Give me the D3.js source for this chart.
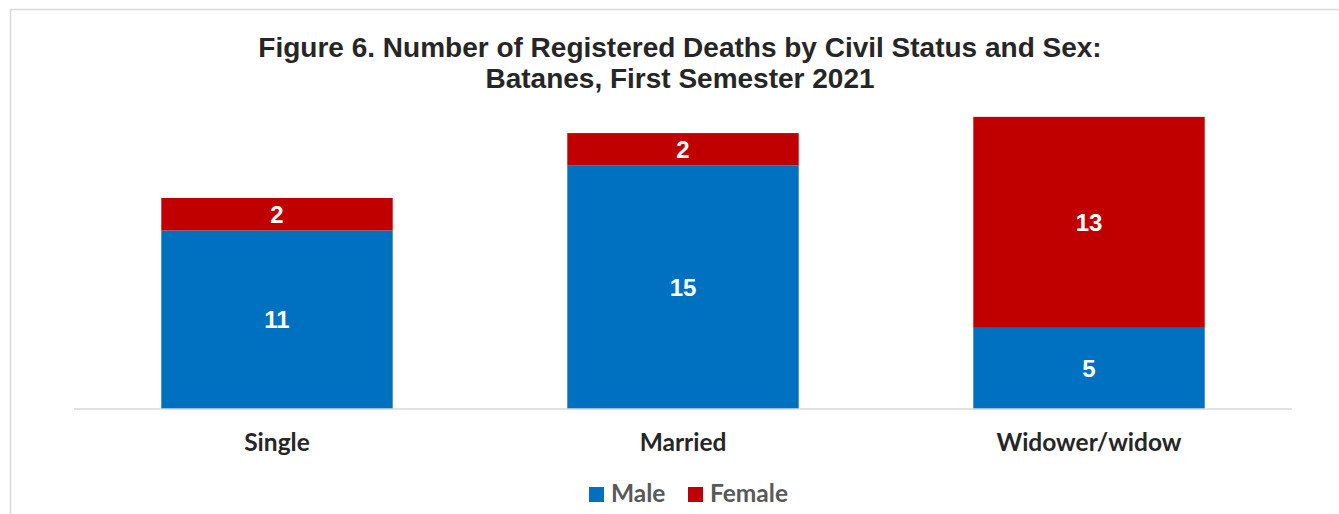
<!DOCTYPE html>
<html>
<head>
<meta charset="utf-8">
<script src="https://cdn.jsdelivr.net/npm/d3@7"></script>
<style>
  body { margin: 0; background: #fff; }
  svg { display: block; }
</style>
</head>
<body>
<svg id="chart" width="1339" height="514"></svg>
<script>
var categories = ["Single", "Married", "Widower/widow"];
var male = [11, 15, 5];
var female = [2, 2, 13];
var seriesNames = ["Male", "Female"];
var colors = ["#0070c0", "#c00000"];

var svg = d3.select("#chart");

// outer frame (only top/left visible in the picture)
svg.append("rect")
  .attr("x", 10.5).attr("y", 9.5)
  .attr("width", 1360).attr("height", 540)
  .attr("fill", "none").attr("stroke", "#d9d9d9").attr("stroke-width", 1.5);

var left = 74, right = 1292, base = 409;

var x = d3.scaleBand().domain(categories).range([left, right]).paddingInner(0.43).paddingOuter(0.215);
var y = d3.scaleLinear().domain([0, 20]).range([base, base - 324.6]);

var table = categories.map(function (c, i) {
  return { cat: c, Male: male[i], Female: female[i] };
});
var stack = d3.stack().keys(seriesNames)(table);

var g = svg.append("g");

stack.forEach(function (layer, k) {
  g.selectAll(".bar" + k)
    .data(layer)
    .enter().append("rect")
    .attr("x", function (d) { return x(d.data.cat); })
    .attr("y", function (d) { return y(d[1]); })
    .attr("width", x.bandwidth())
    .attr("height", function (d) { return y(d[0]) - y(d[1]); })
    .attr("fill", colors[k]);

  g.selectAll(".lab" + k)
    .data(layer)
    .enter().append("text")
    .attr("x", function (d) { return x(d.data.cat) + x.bandwidth() / 2; })
    .attr("y", function (d) { return (y(d[0]) + y(d[1])) / 2; })
    .attr("dy", "0.36em")
    .attr("text-anchor", "middle")
    .attr("font-family", "Liberation Sans, Arial, sans-serif")
    .attr("font-weight", "bold")
    .attr("font-size", 24)
    .attr("fill", "#fff")
    .text(function (d) { return d[1] - d[0]; });
});

// x axis
var xAxis = g.append("g")
  .attr("transform", "translate(0," + base + ")")
  .call(d3.axisBottom(x).tickSize(0).tickPadding(25));
xAxis.select(".domain").attr("stroke", "#d9d9d9").attr("stroke-width", 1.5)
  .attr("d", "M" + left + ",0H" + right);
xAxis.selectAll("text")
  .attr("font-family", "Lato, 'Open Sans', sans-serif")
  .attr("font-weight", "bold")
  .attr("font-size", 24.5)
  .attr("fill", "#262626");

// title
var title = svg.append("text")
  .attr("x", 680)
  .attr("text-anchor", "middle")
  .attr("font-family", "Liberation Sans, Arial, sans-serif")
  .attr("font-weight", "bold")
  .attr("font-size", 28)
  .attr("fill", "#262626");
title.append("tspan").attr("x", 680).attr("y", 57)
  .text("Figure 6. Number of Registered Deaths by Civil Status and Sex:");
title.append("tspan").attr("x", 680).attr("y", 88)
  .text("Batanes, First Semester 2021");

// legend
var legendX = [589, 688];
var legend = svg.append("g");
seriesNames.forEach(function (s, i) {
  legend.append("rect")
    .attr("x", legendX[i]).attr("y", 487)
    .attr("width", 15).attr("height", 15)
    .attr("fill", colors[i]);
  legend.append("text")
    .attr("x", legendX[i] + 22).attr("y", 502)
    .attr("font-family", "Lato, 'Open Sans', sans-serif")
    .attr("font-weight", "bold")
    .attr("font-size", 24.5)
    .attr("fill", "#595959")
    .text(s);
});
</script>
</body>
</html>
